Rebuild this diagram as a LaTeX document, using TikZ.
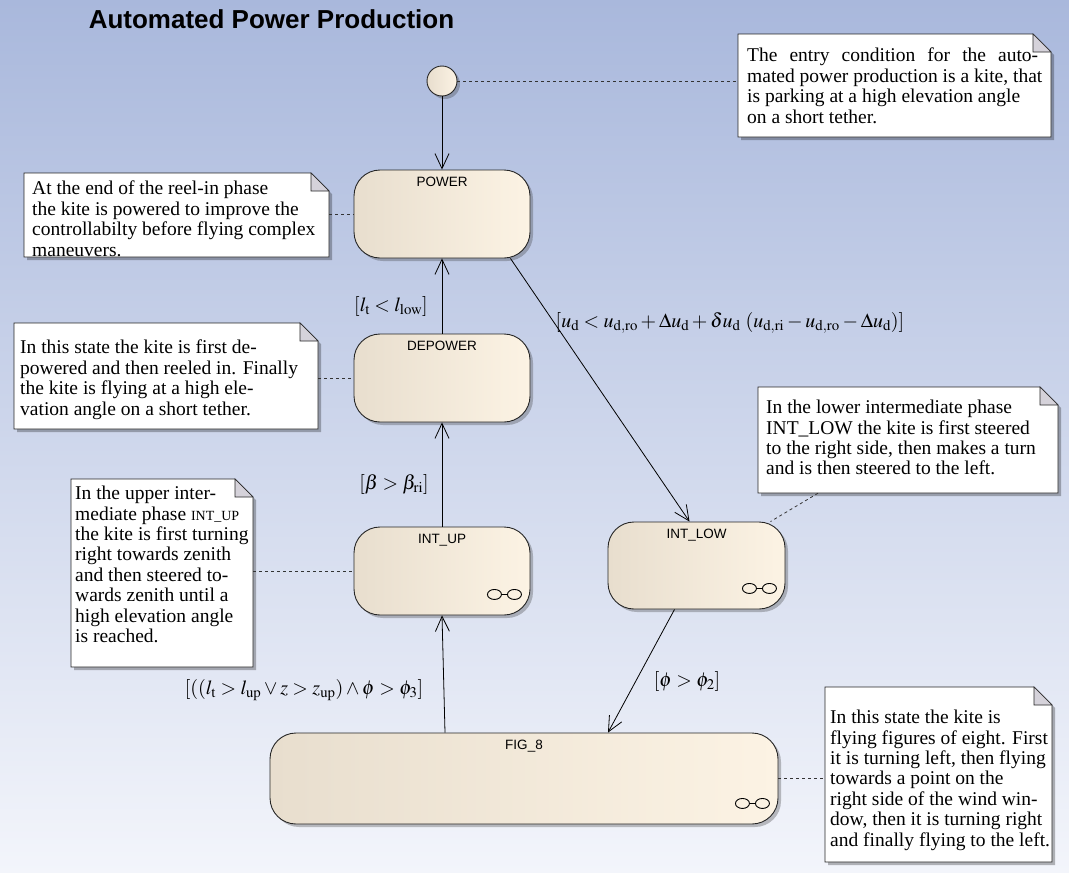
\documentclass[tikz,border=0pt]{standalone}
\usepackage{mathptmx}
\usepackage{fontspec}
\setmainfont{Liberation Serif}
\setsansfont{Liberation Sans}
\usetikzlibrary{arrows.meta,shadows,fit}
\definecolor{bgT}{HTML}{A9B8DC}
\definecolor{bgB}{HTML}{F3F5FB}
\definecolor{stL}{HTML}{E8DECE}
\definecolor{stR}{HTML}{FCF3E4}
\definecolor{foldc}{HTML}{D5D2DA}
\newcommand\umlnote[8]{%
  \coordinate (#1-nw) at (#2,#3);
  \coordinate (#1-se) at (#4,#5);
  \fill[black,opacity=.28] (#2+3,#3+3) -- (#4-15,#3+3) -- (#4+3,#3+21) -- (#4+3,#5+3) -- (#2+3,#5+3) -- cycle;
  \filldraw[fill=white,draw=black!85,line width=0.9pt] (#2,#3) -- (#4-18,#3) -- (#4,#3+18) -- (#4,#5) -- (#2,#5) -- cycle;
  \filldraw[fill=foldc,draw=black!85,line width=0.6pt] (#4-18,#3) -- (#4-18,#3+18) -- (#4,#3+18) -- cycle;
  \node[inner sep=0pt,fit=(#1-nw)(#1-se)] (#1) {};
  \node[notetext] (#1-text) at (#6,#7) {#8};
}
\begin{document}
\begin{tikzpicture}[x=1pt,y=-1pt,
  state/.style={draw=black!85,line width=0.9pt,rounded corners=26pt,left color=stL,right color=stR,
    minimum width=176pt,minimum height=88pt,inner sep=0pt,
    drop shadow={shadow xshift=3pt,shadow yshift=-3pt,opacity=.3,fill=black!80}},
  stlabel/.style={font=\sffamily\fontsize{13.5}{15}\selectfont,inner sep=0pt,anchor=north},
  trans/.style={draw=black,line width=0.8pt,-{Straight Barb[length=15pt,width=14pt,line width=0.8pt]}},
  notelink/.style={draw=black!80,line width=0.8pt,dash pattern=on 3pt off 3pt},
  notetext/.style={font=\fontsize{19.5}{20.4}\selectfont,align=left,inner sep=0pt,anchor=north west},
  guard/.style={font=\fontsize{20}{22}\selectfont,inner sep=0pt},
  icon/.style={line width=0.9pt,draw=black}
]
\useasboundingbox (0,0) rectangle (1069,873);
\fill[top color=bgT,bottom color=bgB] (0,0) rectangle (1069,873);

\node[font=\sffamily\bfseries\fontsize{26}{30}\selectfont,anchor=base,inner sep=0pt] (title) at (271.5,28) {Automated Power Production};

% states
\node[circle,draw=black!85,line width=0.9pt,minimum size=30pt,inner sep=0pt,left color=stL,right color=stR,
  drop shadow={shadow xshift=3pt,shadow yshift=-3pt,opacity=.3,fill=black!80}] (init) at (442,81) {};
\node[state] (power) at (442,214) {};
\node[stlabel] (powerlbl) at ([yshift=-7pt]power.north) {POWER};
\node[state] (depower) at (442,378) {};
\node[stlabel] (depowerlbl) at ([yshift=-7pt]depower.north) {DEPOWER};
\node[state] (intup) at (442,571) {};
\node[stlabel] (intuplbl) at ([yshift=-7pt]intup.north) {INT\_UP};
\node[state,minimum width=177pt,minimum height=87pt] (intlow) at (696.5,565.5) {};
\node[stlabel] (intlowlbl) at ([yshift=-7pt]intlow.north) {INT\_LOW};
\node[state,minimum width=508pt,minimum height=91pt] (fig) at (524,778.5) {};
\node[stlabel] (figlbl) at ([yshift=-7pt]fig.north) {FIG\_8};

% sub-machine icons
\foreach \s in {intup,intlow,fig}{
  \draw[icon] ([shift={(-36,-21)}]\s.south east) ellipse (7 and 5);
  \draw[icon] ([shift={(-16,-21)}]\s.south east) ellipse (7 and 5);
  \draw[icon] ([shift={(-29,-21)}]\s.south east) -- ([shift={(-23,-21)}]\s.south east);
}

% notes
\umlnote{n0}{738}{34}{1051}{137}{747}{48}{\makebox[291pt][s]{The entry condition for the auto-}\\mated power production is a kite, that\\is parking at a high elevation angle\\on a short tether.}
\umlnote{n1}{24}{173}{329}{257}{32}{181}{At the end of the reel-in phase\\the kite is powered to improve the\\controllabilty before flying complex\\maneuvers.}
\umlnote{n2}{14}{323}{318}{429}{20}{340}{In this state the kite is first de-\\powered and then reeled in. Finally\\the kite is flying at a high ele-\\vation angle on a short tether.}
\umlnote{n3}{71}{479}{253}{667}{75}{486}{In the upper inter-\\mediate phase {\fontsize{14}{16}\selectfont INT\_UP}\\the kite is first turning\\right towards zenith\\and then steered to-\\wards zenith until a\\high elevation angle\\is reached.}
\umlnote{n4}{758}{387}{1058}{493}{766}{400}{In the lower intermediate phase\\INT\_LOW the kite is first steered\\to the right side, then makes a turn\\and is then steered to the left.}
\umlnote{n5}{825}{687}{1052}{862}{830}{710}{In this state the kite is\\flying figures of eight. First\\it is turning left, then flying\\towards a point on the\\right side of the wind win-\\dow, then it is turning right\\and finally flying to the left.}

% note links
\draw[notelink] (init.east) -- (init.east -| n0.west);
\draw[notelink] (n1.east |- power.west) -- (power.west);
\draw[notelink] (n2.east |- depower.west) -- (depower.west);
\draw[notelink] (n3.east |- intup.west) -- (intup.west);
\draw[notelink] ([xshift=-90pt]n4.south) -- ([xshift=-15pt]intlow.north east);
\draw[notelink] (fig.east) -- (fig.east -| n5.west);

% transitions
\draw[trans] (init) -- (power);
\draw[trans] (depower.north) -- (power.south);
\draw[trans] (intup.north) -- (depower.south);
\draw[trans] ([xshift=-79pt]fig.north) -- (intup.south);
\draw[trans] ([xshift=-20pt]power.south east) -- ([xshift=-7pt]intlow.north);
\draw[trans] ([xshift=-22pt]intlow.south) -- ([xshift=84pt]fig.north);

% guards
\node[guard] (g1) at (391,306) {$[l_{\mathrm{t}} < l_{\mathrm{low}}]$};
\node[guard] (g2) at (730,323) {$[u_{\mathrm{d}} < u_{\mathrm{d,ro}} + \Delta u_{\mathrm{d}} + \delta u_{\mathrm{d}}\ (u_{\mathrm{d,ri}} - u_{\mathrm{d,ro}} - \Delta u_{\mathrm{d}})]$};
\node[guard] (g3) at (394,484) {$[\beta > \beta_{\mathrm{ri}}]$};
\node[guard] (g4) at (304,690) {$[((l_{\mathrm{t}} > l_{\mathrm{up}} \vee z > z_{\mathrm{up}}) \wedge \phi > \phi_3]$};
\node[guard] (g5) at (687,681) {$[\phi > \phi_2]$};
\end{tikzpicture}
\end{document}
